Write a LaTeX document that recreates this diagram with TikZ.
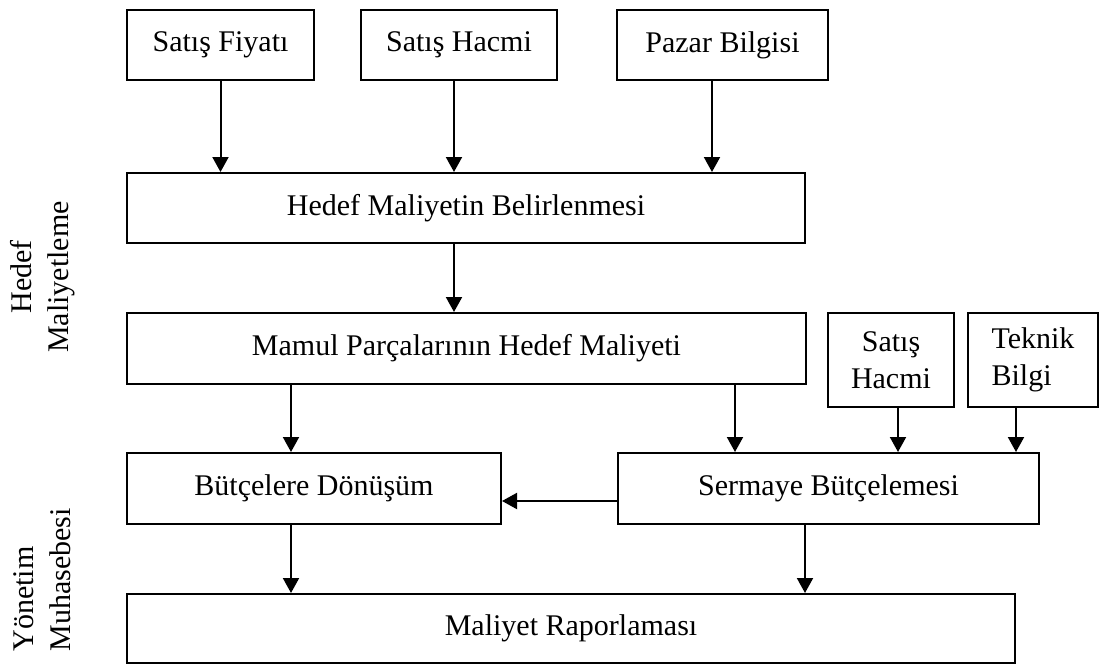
\documentclass[tikz,border=0pt]{standalone}
\usepackage{fontspec}
\setmainfont{Liberation Serif}
\usetikzlibrary{arrows.meta}

\begin{document}
\begin{tikzpicture}[x=0.5pt,y=-0.5pt,font=\fontsize{15pt}{18.5pt}\selectfont,
    box/.style={draw, line width=1pt, inner sep=0pt, minimum height=35pt},
    smallbox/.style={box, minimum height=47pt},
    arr/.style={line width=1pt, -{Triangle[width=8pt,length=7.5pt]}},
    side/.style={rotate=90, inner sep=0pt}
    ]
    \useasboundingbox (0,0) rectangle (1100,665);

    % top row
    \node[box, minimum width=93.5pt] (fiyat) at (220.5,45) {Satış Fiyatı};
    \node[box, minimum width=98pt] (hacim) at (459,45) {Satış Hacmi};
    \node[box, minimum width=105.5pt] (pazar) at (722.5,45) {Pazar Bilgisi};

    \node[box, minimum width=339pt] (hedef) at (466,208) {Hedef Maliyetin Belirlenmesi};
    \node[box, minimum width=339.5pt, minimum height=35.5pt] (mamul) at (466.5,348.5) {Mamul Parçalarının Hedef Maliyeti};

    \node[smallbox, minimum width=63pt, align=center] (shacim) at (891,360) {Satış\\Hacmi};
    \node[smallbox, minimum width=65pt, align=left] (teknik) at (1033,360) {Teknik\\Bilgi};

    \node[box, minimum width=187pt, minimum height=35.5pt] (butce) at (314,488.5) {Bütçelere Dönüşüm};
    \node[box, minimum width=210.5pt, minimum height=35.5pt] (sermaye) at (828.5,488.5) {Sermaye Bütçelemesi};
    \node[box, minimum width=444pt, minimum height=34.5pt] (rapor) at (571,628.5) {Maliyet Raporlaması};

    % side labels
    \node[side, align=center] (hm) at (42.5,277) {Hedef\\Maliyetleme};
    \node[side, align=left] (ym) at (42.5,580) {Yönetim\\Muhasebesi};

    % arrows
    \draw[arr] (fiyat.south) -- (fiyat.south |- hedef.north);
    \draw[arr] ([xshift=-2.5pt]hacim.south) -- ([xshift=-2.5pt]hacim.south |- hedef.north);
    \draw[arr] ([xshift=-5.25pt]pazar.south) -- ([xshift=-5.25pt]pazar.south |- hedef.north);
    \draw[arr] ([xshift=-6pt]hedef.south) -- ([xshift=-6pt]hedef.south |- mamul.north);
    \draw[arr] ([xshift=-11.5pt]butce.north |- mamul.south) -- ([xshift=-11.5pt]butce.north);
    \draw[arr] ([xshift=-46.75pt]sermaye.north |- mamul.south) -- ([xshift=-46.75pt]sermaye.north);
    \draw[arr] ([xshift=3.5pt]shacim.south) -- ([xshift=3.5pt]shacim.south |- sermaye.north);
    \draw[arr] ([xshift=-8.5pt]teknik.south) -- ([xshift=-8.5pt]teknik.south |- sermaye.north);
    \draw[arr] ([yshift=-6.25pt]sermaye.west) -- ([yshift=-6.25pt]sermaye.west -| butce.east);
    \draw[arr] ([xshift=-11.5pt]butce.south) -- ([xshift=-11.5pt]butce.south |- rapor.north);
    \draw[arr] ([xshift=-11.75pt]sermaye.south) -- ([xshift=-11.75pt]sermaye.south |- rapor.north);
    %
\end{tikzpicture}
\end{document}
